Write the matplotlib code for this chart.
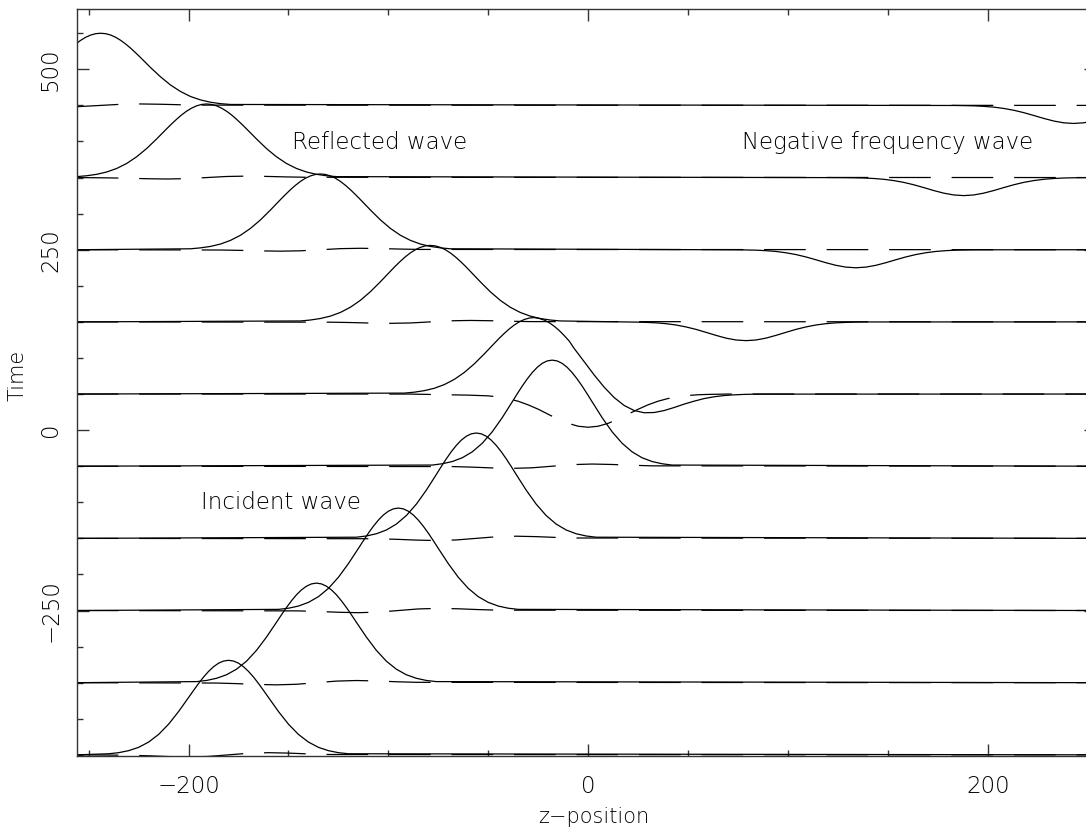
import matplotlib
matplotlib.use("Agg")
import matplotlib.pyplot as plt
from matplotlib.ticker import MultipleLocator

# ---------------- data ----------------
times = [-450, -350, -250, -150, -50, 50, 150, 250, 350, 450]

# solid curves: x positions and offsets above each time baseline
sx_m450 = [-256, -240, -235, -230, -225, -220, -215, -210, -205, -200, -197.5, -195, -192.5, -190,
           -187.5, -185, -182.5, -180, -177.5, -175, -172.5, -170, -167.5, -165, -162.5, -160,
           -155, -150, -145, -140, -135, -130, -125, -120, 256]
sy_m450 = [0, 1.5, 3.0, 5.8, 10.4, 17.7, 28.3, 42.5, 60.0, 79.5, 89.3, 98.9, 107.8, 115.6,
           122.1, 127.0, 130.0, 131.0, 130.0, 127.0, 122.1, 115.6, 107.8, 98.9, 89.3, 79.5,
           60.0, 42.5, 28.3, 17.7, 10.4, 5.8, 3.0, 1.5, 0]

sx_m350 = [-256, -196, -191, -186, -181, -176, -171, -166, -161, -156, -153.5, -151, -148.5, -146,
           -143.5, -141, -138.5, -136, -133.5, -131, -128.5, -126, -123.5, -121, -118.5, -116,
           -111, -106, -101, -96, -91, -86, -81, -76, 256]
sy_m350 = [0, 1.5, 3.1, 6.1, 11.0, 18.7, 29.8, 44.8, 63.2, 83.7, 94.1, 104.2, 113.5, 121.8,
           128.6, 133.7, 136.9, 138.0, 136.9, 133.7, 128.6, 121.8, 113.5, 104.2, 94.1, 83.7,
           63.2, 44.8, 29.8, 18.7, 11.0, 6.1, 3.1, 1.5, 0]

sx_m250 = [-256, -155, -150, -145, -140, -135, -130, -125, -120, -115, -112.5, -110, -107.5, -105,
           -102.5, -100, -97.5, -95, -92.5, -90, -87.5, -85, -82.5, -80, -77.5, -75,
           -70, -65, -60, -55, -50, -45, -40, -35, 256]
sy_m250 = [0, 1.6, 3.2, 6.2, 11.3, 19.2, 30.7, 46.1, 65.0, 86.1, 96.8, 107.2, 116.8, 125.3,
           132.4, 137.6, 140.9, 142.0, 140.9, 137.6, 132.4, 125.3, 116.8, 107.2, 96.8, 86.1,
           65.0, 46.1, 30.7, 19.2, 11.3, 6.2, 3.2, 1.6, 0]

sx_m150 = [-256, -116, -111, -106, -101, -96, -91, -86, -81, -76, -73.5, -71, -68.5, -66,
           -63.5, -61, -58.5, -56, -53.5, -51, -48.5, -46, -43.5, -41, -38.5, -36,
           -31, -26, -21, -16, -11, -6, -1, 4, 256]
sy_m150 = [0, 1.6, 3.3, 6.4, 11.6, 19.8, 31.6, 47.4, 66.8, 88.5, 99.6, 110.2, 120.1, 128.8,
           136.1, 141.5, 144.9, 146.0, 144.9, 141.5, 136.1, 128.8, 120.1, 110.2, 99.6, 88.5,
           66.8, 47.4, 31.6, 19.8, 11.6, 6.4, 3.3, 1.6, 0]

sx_m50 = [-256, -78, -73, -68, -63, -58, -53, -48, -43, -38, -35.5, -33, -30.5, -28,
          -25.5, -23, -20.5, -18, -15.5, -13, -10.5, -8, -5.5, -3, -0.5, 2,
          7, 12, 17, 22, 27, 32, 37, 42, 256]
sy_m50 = [0, 1.6, 3.4, 6.5, 11.7, 19.9, 31.8, 47.7, 67.3, 89.2, 100.3, 111.0, 120.9, 129.7,
          137.0, 142.5, 145.9, 147.0, 145.9, 142.5, 137.0, 129.7, 120.9, 111.0, 100.3, 89.2,
          67.3, 47.7, 31.8, 19.9, 11.7, 6.5, 3.4, 1.6, 0]

sx_p50 = [-256, -92, -87, -82, -77, -72, -67, -62, -57, -52, -47, -44.5, -42, -39.5, -37,
          -34.5, -32, -29.5, -27, -24.5, -22, -19.5, -17, -14.5, -12, -9.5, -7, -2, 3, 8,
          13, 18, 23, 28, 33, 38, 43, 48, 53, 58, 63, 68, 73, 78, 83, 88, 256]
sy_p50 = [0, 1.3, 2.6, 4.7, 8.0, 13.1, 20.3, 29.9, 41.8, 55.6, 70.1, 77.3, 84.0, 90.2, 95.6,
          100.0, 103.3, 105.3, 106.0, 104.8, 102.5, 98.9, 94.0, 88.1, 81.1, 73.5, 63.2, 44.9,
          26.5, 9.6, -4.8, -15.8, -22.8, -25.9, -25.6, -22.9, -18.7, -14.0, -9.9, -6.3, -3.8,
          -2.1, -1.1, -0.5, -0.2, -0.1, 0]

sx_p150 = [-256, -144, -139, -134, -129, -124, -119, -114, -109, -104, -99, -96.5, -94, -91.5,
           -89, -86.5, -84, -81.5, -79, -76.5, -74, -71.5, -69, -66.5, -64, -61.5, -59,
           -54, -49, -44, -39, -34, -29, -24, -19, -14,
           19, 24, 29, 34, 39, 44, 49, 54, 59, 64, 69, 74, 79,
           84, 89, 94, 99, 104, 109, 114, 119, 124, 129, 134, 139, 256]
sy_p150 = [0, 1.3, 2.6, 4.7, 8.0, 13.1, 20.3, 29.9, 41.8, 55.6, 70.1, 77.3, 84.0, 90.2,
           95.6, 100.0, 103.3, 105.3, 106.0, 105.3, 103.3, 100.0, 95.6, 90.2, 84.0, 77.3, 70.1,
           55.6, 41.8, 29.9, 20.3, 13.1, 8.0, 4.7, 2.6, 1.3,
           -0.1, -0.3, -0.7, -1.3, -2.5, -4.3, -7.0, -10.4, -14.5, -18.7, -22.5, -25.1, -26.0,
           -25.1, -22.5, -18.7, -14.5, -10.4, -7.0, -4.3, -2.5, -1.3, -0.7, -0.3, -0.1, 0]

sx_p250 = [-256, -199, -194, -189, -184, -179, -174, -169, -164, -159, -154, -151.5, -149, -146.5,
           -144, -141.5, -139, -136.5, -134, -131.5, -129, -126.5, -124, -121.5, -119, -116.5, -114,
           -109, -104, -99, -94, -89, -84, -79, -74, -69,
           74, 79, 84, 89, 94, 99, 104, 109, 114, 119, 124, 129, 134,
           139, 144, 149, 154, 159, 164, 169, 174, 179, 184, 189, 194, 256]
sy_p250 = [0, 1.3, 2.6, 4.6, 7.9, 13.0, 20.1, 29.6, 41.4, 55.1, 69.5, 76.5, 83.2, 89.3,
           94.7, 99.1, 102.3, 104.3, 105.0, 104.3, 102.3, 99.1, 94.7, 89.3, 83.2, 76.5, 69.5,
           55.1, 41.4, 29.6, 20.1, 13.0, 7.9, 4.6, 2.6, 1.3,
           -0.1, -0.3, -0.6, -1.3, -2.4, -4.2, -6.7, -10.0, -13.9, -18.0, -21.6, -24.1, -25.0,
           -24.1, -21.6, -18.0, -13.9, -10.0, -6.7, -4.2, -2.4, -1.3, -0.6, -0.3, -0.1, 0]

sx_p350 = [-256, -251, -246, -241, -236, -231, -226, -221, -216, -211, -208.5, -206, -203.5,
           -201, -198.5, -196, -193.5, -191, -188.5, -186, -183.5, -181, -178.5, -176, -173.5, -171,
           -166, -161, -156, -151, -146, -141, -136, -131, -126,
           128, 133, 138, 143, 148, 153, 158, 163, 168, 173, 178, 183, 188,
           193, 198, 203, 208, 213, 218, 223, 228, 233, 238, 243, 248, 256]
sy_p350 = [1.3, 2.5, 4.5, 7.7, 12.6, 19.5, 28.8, 40.2, 53.5, 67.5, 74.3, 80.8, 86.8,
           92.0, 96.2, 99.4, 101.3, 102.0, 101.3, 99.4, 96.2, 92.0, 86.8, 80.8, 74.3, 67.5,
           53.5, 40.2, 28.8, 19.5, 12.6, 7.7, 4.5, 2.5, 1.3,
           -0.1, -0.3, -0.6, -1.3, -2.4, -4.2, -6.7, -10.0, -13.9, -18.0, -21.6, -24.1, -25.0,
           -24.1, -21.6, -18.0, -13.9, -10.0, -6.7, -4.2, -2.4, -1.3, -0.6, -0.3, -0.1, 0]

sx_p450 = [-256, -254, -251.5, -249, -246.5, -244, -241.5, -239, -236.5, -234, -231.5, -229,
           -226.5, -224, -219, -214, -209, -204, -199, -194, -189, -184, -179,
           183, 188, 193, 198, 203, 208, 213, 218, 223, 228, 233, 238, 243, 248, 253, 256]
sy_p450 = [86.2, 90.2, 94.4, 97.5, 99.4, 100.0, 99.4, 97.5, 94.4, 90.2, 85.1, 79.3,
           72.9, 66.2, 52.4, 39.5, 28.2, 19.2, 12.3, 7.6, 4.4, 2.4, 1.3,
           -0.1, -0.3, -0.6, -1.3, -2.4, -4.2, -6.7, -10.0, -13.9, -18.0, -21.6, -24.1, -25.0,
           -24.1, -21.6, -19.5]

# dashed curves: x positions and offsets from each time baseline
dx_m450 = [-256, -230, -220, -210, -200, -190, -180, -170, -160, -150, -140, -130, 256]
dy_m450 = [0, -0.5, -1.3, -2.4, -3.0, -2.2, 0, 2.2, 3.0, 2.4, 1.3, 0.5, 0]
dx_m350 = [-256, -186, -176, -166, -156, -146, -136, -126, -116, -106, -96, -86, 256]
dy_m350 = [0, -0.5, -1.3, -2.4, -3.0, -2.2, 0, 2.2, 3.0, 2.4, 1.3, 0.5, 0]
dx_m250 = [-256, -145, -135, -125, -115, -105, -95, -85, -75, -65, -55, -45, 256]
dy_m250 = [0, -0.5, -1.3, -2.4, -3.0, -2.2, 0, 2.2, 3.0, 2.4, 1.3, 0.5, 0]
dx_m150 = [-256, -106, -96, -86, -76, -66, -56, -46, -36, -26, -16, -6, 256]
dy_m150 = [0, -0.5, -1.3, -2.4, -3.0, -2.2, 0, 2.2, 3.0, 2.4, 1.3, 0.5, 0]
dx_m50 = [-256, -68, -58, -48, -38, -28, -18, -8, 2, 12, 22, 32, 256]
dy_m50 = [0, -0.5, -1.3, -2.4, -3.0, -2.2, 0, 2.2, 3.0, 2.4, 1.3, 0.5, 0]
dx_p50 = [-256, -90, -70, -60, -55, -50, -45, -40, -35, -30, -25, -20, -15, -10, -5, 0,
          5, 10, 15, 20, 25, 30, 35, 40, 45, 50, 55, 60, 70, 256]
dy_p50 = [0, 0, -1.0, -1.5, -2.0, -2.5, -4.0, -6.5, -10.0, -15.0, -21.0, -28.0, -35.0, -40.6,
          -44.6, -46.0, -44.6, -40.6, -34.7, -27.9, -21.1, -14.9, -9.9, -6.2, -3.7, -2.0,
          -1.0, -0.5, 0, 0]
dx_p150 = [-256, -129, -119, -109, -99, -89, -79, -69, -59, -49, -39, -29, 256]
dy_p150 = [0, -0.4, -0.9, -1.6, -2.0, -1.5, 0, 1.5, 2.0, 1.6, 0.9, 0.4, 0]
dx_p250 = [-256, -184, -174, -164, -154, -144, -134, -124, -114, -104, -94, -84, 256]
dy_p250 = [0, -0.4, -0.9, -1.6, -2.0, -1.5, 0, 1.5, 2.0, 1.6, 0.9, 0.4, 0]
dx_p350 = [-256, -241, -231, -221, -211, -201, -191, -181, -171, -161, -151, -141, 256]
dy_p350 = [0, -0.4, -0.9, -1.6, -2.0, -1.5, 0, 1.5, 2.0, 1.6, 0.9, 0.4, 0]
dx_p450 = [-256, -254, -244, -234, -224, -214, -204, -194, 256]
dy_p450 = [-1.8, -1.5, 0, 1.5, 2.0, 1.6, 0.9, 0.4, 0]

solid_x = [sx_m450, sx_m350, sx_m250, sx_m150, sx_m50, sx_p50, sx_p150, sx_p250, sx_p350, sx_p450]
solid_y = [sy_m450, sy_m350, sy_m250, sy_m150, sy_m50, sy_p50, sy_p150, sy_p250, sy_p350, sy_p450]
dash_x = [dx_m450, dx_m350, dx_m250, dx_m150, dx_m50, dx_p50, dx_p150, dx_p250, dx_p350, dx_p450]
dash_y = [dy_m450, dy_m350, dy_m250, dy_m150, dy_m50, dy_p50, dy_p150, dy_p250, dy_p350, dy_p450]

labels = ["Reflected wave", "Negative frequency wave", "Incident wave"]
label_x = [-148, 77, -194]
label_y = [398, 398, -100]

# ---------------- drawing ----------------
plt.rcParams["font.family"] = ["DejaVu Sans"]
plt.rcParams["font.weight"] = "light"
plt.rcParams["lines.scale_dashes"] = False

W, H = 1086, 831
fig = plt.figure(figsize=(W / 100, H / 100), dpi=100)
left_px, right_px, top_px, bot_px = 76.7, 1096, 9, 756
ax = fig.add_axes([left_px / W, (H - bot_px) / H, (right_px - left_px) / W, (bot_px - top_px) / H])
ax.set_xlim(-256, 254.2)
ax.set_ylim(-451.6, 583.6)

for t, xs, ys in zip(times, dash_x, dash_y):
    ax.plot(xs, [t + v for v in ys], color="black", lw=0.9, dashes=(30, 15))
for t, xs, ys in zip(times, solid_x, solid_y):
    ax.plot(xs, [t + v for v in ys], color="black", lw=0.9, solid_joinstyle="round")

for s, x, y in zip(labels, label_x, label_y):
    ax.text(x, y, s, fontsize=16.5, ha="left", va="center", fontweight="light", color="black")

ax.xaxis.set_major_locator(MultipleLocator(200))
ax.xaxis.set_minor_locator(MultipleLocator(50))
ax.yaxis.set_major_locator(MultipleLocator(250))
ax.yaxis.set_minor_locator(MultipleLocator(50))
ax.tick_params(which="both", direction="in", top=True, right=True, color="#333333", width=1.0)
ax.tick_params(which="major", length=8.5)
ax.tick_params(which="minor", length=4.3)
ax.tick_params(axis="x", pad=14, labelsize=16.5)
ax.tick_params(axis="y", pad=10.5, labelsize=16.5, labelrotation=90)
for lbl in ax.get_yticklabels():
    lbl.set_va("center")
for sp in ax.spines.values():
    sp.set_color("#333333")
    sp.set_linewidth(1.0)

ax.set_xlabel("z\u2212position", fontsize=15, fontweight="light")
ax.xaxis.set_label_coords((594 - left_px) / (right_px - left_px),
                          ((H - 817) / H - (H - bot_px) / H) / ((bot_px - top_px) / H))
ax.xaxis.label.set_va("center")
ax.set_ylabel("Time", fontsize=15, fontweight="light")
ax.yaxis.set_label_coords((18 - left_px) / (right_px - left_px),
                          ((H - 375) / H - (H - bot_px) / H) / ((bot_px - top_px) / H))
ax.yaxis.label.set_va("center")
ax.yaxis.label.set_ha("center")

fig.savefig("out.png", dpi=100)
